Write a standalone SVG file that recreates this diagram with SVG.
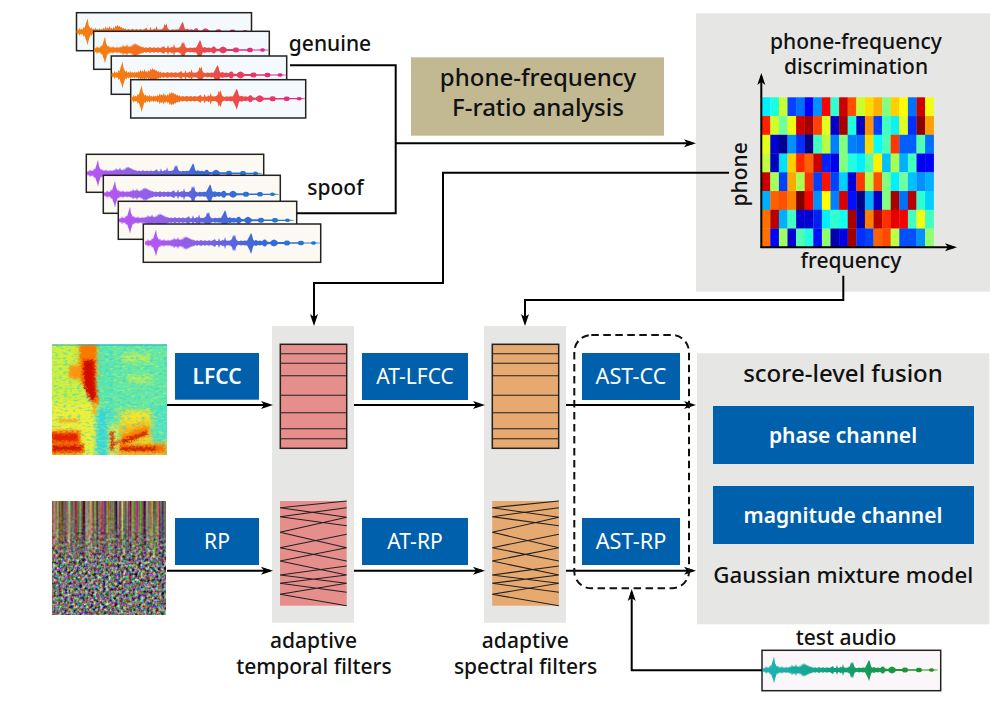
<svg xmlns="http://www.w3.org/2000/svg" width="1007" height="704" viewBox="0 0 1007 704">
<style>
text{font-family:"Noto Sans","Open Sans","Liberation Sans",sans-serif;fill:#111;text-anchor:middle;font-size:21px;font-weight:500}
.w{fill:#fff;font-weight:400}
.b{font-weight:600}
.xl{font-size:24px}
.blue{fill:#0060ab}
.band{fill:#e6e6e4}
.card{stroke:#222;stroke-width:1.5}
.g{fill:#f3f9fd}
.s{fill:#fbf9f2}
.t{fill:#fbf6f9}
.line{fill:none;stroke:#000;stroke-width:2}
.arr{marker-end:url(#ah)}
.fl{stroke:#222;stroke-width:1.1;fill:none}
#heat rect{width:8.8px;height:19px}
</style>
<defs>
<marker id="ah" markerUnits="userSpaceOnUse" markerWidth="14" markerHeight="10" refX="9" refY="5" orient="auto">
<path d="M0 1 L12 5 L0 9 L3 5z" fill="#000"/>
</marker>
<linearGradient id="gg"><stop offset="0" stop-color="#f6800e"/><stop offset=".45" stop-color="#f0602c"/><stop offset=".7" stop-color="#e8405a"/><stop offset="1" stop-color="#e6208c"/></linearGradient>
<linearGradient id="gs"><stop offset="0" stop-color="#bb55f6"/><stop offset=".35" stop-color="#7d62e2"/><stop offset=".65" stop-color="#3a68d8"/><stop offset="1" stop-color="#1e78d0"/></linearGradient>
<linearGradient id="gt"><stop offset="0" stop-color="#20b4b8"/><stop offset=".4" stop-color="#10a080"/><stop offset="1" stop-color="#209010"/></linearGradient>
<path id="wave" d="M0 18 1 16.5 2 17.5 3 15 4 17 5 16 6 17 7 14 8 15.5 9 12 10 9 11 5.5 12 12 13 14 14 16 15 14.5 16 17 17 15.5 18 17 19 15 20 17 21 16 22 17.2 23 15.5 24 17 25 16 26 16.8 27 15 28 16.5 29 13.5 30 16 31 14.5 32 16 33 13 34 16 35 15 36 16.5 37 14 38 16 39 12.5 40 14.5 41 12 42 14 43 13 44 15 45 14 46 16 47 15 48 16.5 49 15.5 50 17 52 16.2 54 17 56 16 58 17 60 16.3 62 17 64 16.2 66 17 68 16.2 70 15 71 17 73 17 74 14 75 17 77 16.5 78 15.5 79 16.8 80 13 81 16.5 83 16.8 85 16.5 87 15 88 11 89 13 90 10.5 91 15 92 16.5 94 17.2 96 16.5 98 17 100 16.5 102 16.8 104 13 105 11 106 9 107 11 108 15 109 16.8 111 16 113 17 115 16.5 117 17.2 119 15.5 121 15.8 122 17.5 125 18 127 16.3 129 15.5 131 16.3 133 18 139 18 140 16.8 142 16.5 144 16.8 145 18.3 153 18.3 154 17 156 16.8 158 17 159 18.4 166 18.4 167 17.5 169 17.3 170 17.6 171 18.5 175 18.7 175 19.3 171 19.5 170 20.4 169 20.7 167 20.5 166 19.6 159 19.6 158 21 156 21.2 154 21 153 19.7 145 19.7 144 21.2 142 21.5 140 21.2 139 20 133 20 131 21.7 129 22.5 127 21.7 125 20 122 20.5 121 22.2 119 22.5 117 20.8 115 21.5 113 21 111 22 109 21.2 108 23 107 27 106 30 105 27 104 25 102 21.2 100 21.5 98 21 96 21.5 94 20.8 92 21.5 91 23 90 27.5 89 25 88 27 87 23 85 21.5 83 21.2 81 21.5 80 25 79 21.2 78 22.5 77 21.5 75 21 74 24 73 21 71 21 70 23 68 21.8 66 21 64 21.8 62 21 60 21.7 58 21 56 22 54 21 52 21.8 50 21 49 22.5 48 21.5 47 23 46 22 45 24 44 23 43 25 42 24 41 26 40 23.5 39 25.5 38 22 37 24 36 21.5 35 23 34 22 33 25 32 22 31 23.5 30 22 29 24.5 28 21.5 27 23 26 21.2 25 22 24 21 23 22.5 22 20.8 21 22 20 21 19 23 18 21 17 22.5 16 21 15 23.5 14 22 13 25 12 28 11 32.5 10 28 9 26 8 22.5 7 24 6 21 5 22 4 21 3 23 2 20.5 1 21.5 0 20Z"/>
<g id="hl" class="fl"><rect x="0" y="0" width="66.4" height="104" stroke-width="1.5"/><path d="M0 9.4H66.4M0 19H66.4M0 31.4H66.4M0 51H66.4M0 68.4H66.4M0 84.4H66.4M0 94.4H66.4"/></g>
<path id="xl" class="fl" d="M0 6.7L66.7 0M0 6.7L66.7 16.3M0 15.7L66.7 6.7M0 15.7L66.7 24.7M0 31.3L66.7 16.3M0 31.3L66.7 46.7M0 46.7L66.7 33.3M0 46.7L66.7 60M0 60L66.7 46.7M0 60L66.7 74M0 74L66.7 65M0 74L66.7 82.3M0 82.3L66.7 74M0 82.3L66.7 91.3M0 93.3L66.7 82.3M0 93.3L66.7 104.7"/>
<filter id="soft" x="-5%" y="-20%" width="110%" height="140%"><feGaussianBlur stdDeviation=".3"/></filter>
<filter id="spb" filterUnits="userSpaceOnUse" x="20" y="310" width="180" height="180" color-interpolation-filters="sRGB">
<feGaussianBlur in="SourceGraphic" stdDeviation="2.8" result="b"/>
<feTurbulence type="fractalNoise" baseFrequency=".3 .45" numOctaves="2" seed="4" result="n"/>
<feDisplacementMap in="b" in2="n" scale="7" xChannelSelector="R" yChannelSelector="G"/>
</filter>
<filter id="spd" filterUnits="userSpaceOnUse" x="20" y="310" width="180" height="180" color-interpolation-filters="sRGB">
<feGaussianBlur in="SourceGraphic" stdDeviation="1.2" result="b"/>
<feTurbulence type="fractalNoise" baseFrequency=".35 .5" numOctaves="2" seed="9" result="n"/>
<feDisplacementMap in="b" in2="n" scale="5" xChannelSelector="R" yChannelSelector="G"/>
</filter>
<filter id="ny" filterUnits="userSpaceOnUse" x="52" y="344" width="115" height="111" color-interpolation-filters="sRGB">
<feTurbulence type="fractalNoise" baseFrequency=".22 .5" numOctaves="2" seed="21"/>
<feColorMatrix values="0 0 0 0 .97  0 0 0 0 .93  0 0 0 0 .2  4 0 0 0 -2.1"/>
</filter>
<filter id="nc" filterUnits="userSpaceOnUse" x="52" y="344" width="115" height="111" color-interpolation-filters="sRGB">
<feTurbulence type="fractalNoise" baseFrequency=".22 .5" numOctaves="2" seed="33"/>
<feColorMatrix values="0 0 0 0 .15  0 0 0 0 .8  0 0 0 0 .92  4 0 0 0 -2"/>
</filter>
<filter id="rpn" filterUnits="userSpaceOnUse" x="52" y="501" width="114" height="114" color-interpolation-filters="sRGB">
<feTurbulence type="fractalNoise" baseFrequency=".34" numOctaves="2" seed="7"/>
<feColorMatrix values="1.5 .5 0 0 -.55  0 1.5 .5 0 -.55  .5 0 1.5 0 -.55  0 0 0 0 1"/>
</filter>
<filter id="rps" filterUnits="userSpaceOnUse" x="52" y="501" width="114" height="114" color-interpolation-filters="sRGB">
<feTurbulence type="fractalNoise" baseFrequency=".28 .004" numOctaves="2" seed="11"/>
<feColorMatrix values="1.6 .5 0 0 -.55  .3 1.6 0 0 -.55  .2 0 1.2 0 -.38  0 0 0 0 1"/>
</filter>
<linearGradient id="rpf" x1="0" y1="0" x2="0" y2="1"><stop offset="0" stop-color="#fff"/><stop offset=".22" stop-color="#bbb"/><stop offset=".55" stop-color="#000"/></linearGradient>
<mask id="rpm" maskUnits="userSpaceOnUse" x="52" y="501" width="114" height="114"><rect x="52" y="501" width="114" height="114" fill="url(#rpf)"/></mask>
<clipPath id="lc"><rect x="52" y="344.3" width="115" height="110.7"/></clipPath>
</defs>

<g id="panel-top"><rect class="band" x="696" y="13.3" width="294" height="278.4"/></g>
<g id="panel-fusion"><rect class="band" x="697" y="353.3" width="292.3" height="271"/></g>
<g id="band-temporal"><rect class="band" x="272" y="326" width="82" height="296.7"/></g>
<g id="band-spectral"><rect class="band" x="484" y="326" width="82" height="296.7"/></g>

<g id="genuine-cards">
<rect class="card g" x="76.5" y="12.7" width="175" height="38"/><use href="#wave" x="76.5" y="12.7" fill="url(#gg)" filter="url(#soft)"/>
<rect class="card g" x="93.7" y="31.3" width="175.6" height="38"/><use href="#wave" x="94" y="31" fill="url(#gg)" filter="url(#soft)"/>
<rect class="card g" x="111.3" y="56" width="175.4" height="38.3"/><use href="#wave" x="111.5" y="56" fill="url(#gg)" filter="url(#soft)"/>
<rect class="card g" x="130.7" y="79.7" width="175" height="38.3"/><use href="#wave" x="130.7" y="79.7" fill="url(#gg)" filter="url(#soft)"/>
</g>
<g id="spoof-cards">
<rect class="card s" x="86.3" y="154.3" width="177.4" height="38"/><use href="#wave" x="87" y="154.3" fill="url(#gs)" filter="url(#soft)"/>
<rect class="card s" x="103.3" y="175.3" width="177" height="38"/><use href="#wave" x="104" y="175.3" fill="url(#gs)" filter="url(#soft)"/>
<rect class="card s" x="118.3" y="201.3" width="178.4" height="38"/><use href="#wave" x="119" y="201.3" fill="url(#gs)" filter="url(#soft)"/>
<rect class="card s" x="143.3" y="224" width="177.4" height="38.3"/><use href="#wave" x="145" y="224" fill="url(#gs)" filter="url(#soft)"/>
</g>
<g id="label-genuine"><text x="330" y="51">genuine</text></g>
<g id="label-spoof"><text x="335.5" y="195">spoof</text></g>

<g id="f-ratio"><rect x="411" y="57.3" width="253" height="78.4" fill="#c2b993"/>
<text class="xl" x="538" y="85.7">phone-frequency</text>
<text class="xl" x="538" y="115.7">F-ratio analysis</text></g>

<g id="heat-title"><text x="856" y="48.5">phone-frequency</text><text x="856" y="74">discrimination</text></g>
<g id="heat" transform="translate(761.7 97.3)">
<g><rect x="0" fill="#00f0ff"/><rect x="8.6" fill="#1affe0"/><rect x="17.2" fill="#c8ff30"/><rect x="25.8" fill="#0a40ff"/><rect x="34.4" fill="#0070ff"/><rect x="43" fill="#0000ff"/><rect x="51.6" fill="#0090ff"/><rect x="60.2" fill="#ff0000"/><rect x="68.8" fill="#30ffd0"/><rect x="77.4" fill="#cc0000"/><rect x="86" fill="#ff5000"/><rect x="94.6" fill="#c8ff30"/><rect x="103.2" fill="#ffdc00"/><rect x="111.8" fill="#ffb000"/><rect x="120.4" fill="#80ff80"/><rect x="129" fill="#ffd000"/><rect x="137.6" fill="#ffff00"/><rect x="146.2" fill="#0070ff"/><rect x="154.8" fill="#cc0000"/><rect x="163.4" fill="#f0ff10"/></g>
<g transform="translate(0 18.75)"><rect x="0" fill="#ff2000"/><rect x="8.6" fill="#d0ff28"/><rect x="17.2" fill="#70ffa0"/><rect x="25.8" fill="#f0ff10"/><rect x="34.4" fill="#cc0000"/><rect x="43" fill="#a00000"/><rect x="51.6" fill="#ff4000"/><rect x="60.2" fill="#e0ff20"/><rect x="68.8" fill="#0000c8"/><rect x="77.4" fill="#a80000"/><rect x="86" fill="#20ffe0"/><rect x="94.6" fill="#0000c0"/><rect x="103.2" fill="#ff9000"/><rect x="111.8" fill="#0040ff"/><rect x="120.4" fill="#40ffc0"/><rect x="129" fill="#10f0f0"/><rect x="137.6" fill="#e0ff20"/><rect x="146.2" fill="#0030ff"/><rect x="154.8" fill="#8b0000"/><rect x="163.4" fill="#ffa000"/></g>
<g transform="translate(0 37.5)"><rect x="0" fill="#e4ff18"/><rect x="8.6" fill="#0000d0"/><rect x="17.2" fill="#000090"/><rect x="25.8" fill="#0090ff"/><rect x="34.4" fill="#0030ff"/><rect x="43" fill="#000088"/><rect x="51.6" fill="#40ffc0"/><rect x="60.2" fill="#b8ff40"/><rect x="68.8" fill="#0080ff"/><rect x="77.4" fill="#80ff80"/><rect x="86" fill="#0080ff"/><rect x="94.6" fill="#0070ff"/><rect x="103.2" fill="#ffd800"/><rect x="111.8" fill="#00ffff"/><rect x="120.4" fill="#50ffb0"/><rect x="129" fill="#ff3800"/><rect x="137.6" fill="#0060ff"/><rect x="146.2" fill="#0060ff"/><rect x="154.8" fill="#50ffb0"/><rect x="163.4" fill="#0070ff"/></g>
<g transform="translate(0 56.25)"><rect x="0" fill="#c0ff40"/><rect x="8.6" fill="#0000c0"/><rect x="17.2" fill="#00e0ff"/><rect x="25.8" fill="#ffd000"/><rect x="34.4" fill="#ff2800"/><rect x="43" fill="#ff6000"/><rect x="51.6" fill="#c80000"/><rect x="60.2" fill="#0020ff"/><rect x="68.8" fill="#0000f0"/><rect x="77.4" fill="#80ff80"/><rect x="86" fill="#20ffe0"/><rect x="94.6" fill="#00f0ff"/><rect x="103.2" fill="#50ffb0"/><rect x="111.8" fill="#fff000"/><rect x="120.4" fill="#00c0ff"/><rect x="129" fill="#a8ff50"/><rect x="137.6" fill="#00b0ff"/><rect x="146.2" fill="#40ffc0"/><rect x="154.8" fill="#0000f0"/><rect x="163.4" fill="#0000ff"/></g>
<g transform="translate(0 75)"><rect x="0" fill="#c80000"/><rect x="8.6" fill="#a8ff58"/><rect x="17.2" fill="#0040ff"/><rect x="25.8" fill="#ffa800"/><rect x="34.4" fill="#a8ff50"/><rect x="43" fill="#ff3000"/><rect x="51.6" fill="#0040ff"/><rect x="60.2" fill="#ff1000"/><rect x="68.8" fill="#0040ff"/><rect x="77.4" fill="#00d0ff"/><rect x="86" fill="#0000d8"/><rect x="94.6" fill="#ff3800"/><rect x="103.2" fill="#b0ff48"/><rect x="111.8" fill="#ff5000"/><rect x="120.4" fill="#80ff80"/><rect x="129" fill="#00f0ff"/><rect x="137.6" fill="#70ffa0"/><rect x="146.2" fill="#00c0ff"/><rect x="154.8" fill="#0090ff"/><rect x="163.4" fill="#00b0ff"/></g>
<g transform="translate(0 93.75)"><rect x="0" fill="#00b0ff"/><rect x="8.6" fill="#ff6000"/><rect x="17.2" fill="#ff5000"/><rect x="25.8" fill="#ff8000"/><rect x="34.4" fill="#800000"/><rect x="43" fill="#ff0000"/><rect x="51.6" fill="#0090ff"/><rect x="60.2" fill="#ffff00"/><rect x="68.8" fill="#0080ff"/><rect x="77.4" fill="#d80000"/><rect x="86" fill="#0010ff"/><rect x="94.6" fill="#000088"/><rect x="103.2" fill="#00b0ff"/><rect x="111.8" fill="#0000c8"/><rect x="120.4" fill="#80ff80"/><rect x="129" fill="#a80000"/><rect x="137.6" fill="#0070ff"/><rect x="146.2" fill="#b80000"/><rect x="154.8" fill="#30ffd0"/><rect x="163.4" fill="#00d0ff"/></g>
<g transform="translate(0 112.5)"><rect x="0" fill="#ff7000"/><rect x="8.6" fill="#b80000"/><rect x="17.2" fill="#00b0ff"/><rect x="25.8" fill="#40ffc0"/><rect x="34.4" fill="#0000d0"/><rect x="43" fill="#0000d0"/><rect x="51.6" fill="#0020f0"/><rect x="60.2" fill="#00f0ff"/><rect x="68.8" fill="#30ffd0"/><rect x="77.4" fill="#10ffee"/><rect x="86" fill="#a80000"/><rect x="94.6" fill="#0000b0"/><rect x="103.2" fill="#ff8000"/><rect x="111.8" fill="#b80000"/><rect x="120.4" fill="#ff3000"/><rect x="129" fill="#e80000"/><rect x="137.6" fill="#f80000"/><rect x="146.2" fill="#40ffc0"/><rect x="154.8" fill="#f0ff10"/><rect x="163.4" fill="#40ffc0"/></g>
<g transform="translate(0 131.25)"><rect x="0" fill="#ff7000"/><rect x="8.6" fill="#0000ff"/><rect x="17.2" fill="#a0ff60"/><rect x="25.8" fill="#0000d0"/><rect x="34.4" fill="#50ffb0"/><rect x="43" fill="#20ffe0"/><rect x="51.6" fill="#0010ff"/><rect x="60.2" fill="#90ff70"/><rect x="68.8" fill="#0000b0"/><rect x="77.4" fill="#0000e0"/><rect x="86" fill="#a00000"/><rect x="94.6" fill="#0030ff"/><rect x="103.2" fill="#0040ff"/><rect x="111.8" fill="#ff6000"/><rect x="120.4" fill="#ff4800"/><rect x="129" fill="#c0ff40"/><rect x="137.6" fill="#0050ff"/><rect x="146.2" fill="#0050ff"/><rect x="154.8" fill="#0090ff"/><rect x="163.4" fill="#90ff70"/></g>
</g>
<g id="axes"><path class="line arr" d="M761.3 248V76"/><path class="line arr" d="M760.5 247.3H954"/></g>
<g id="label-phone"><text transform="translate(747 174.3) rotate(-90)">phone</text></g>
<g id="label-frequency"><text x="851" y="268">frequency</text></g>

<g id="lfcc-image" clip-path="url(#lc)">
<rect x="52" y="344" width="115" height="111" fill="#5ee4b0"/>
<g filter="url(#spb)">
<rect x="30" y="325" width="62" height="85" fill="#ccf040"/>
<rect x="30" y="403" width="72" height="70" fill="#eef038"/>
<rect x="96" y="340" width="12" height="64" fill="#58e8b0"/>
<rect x="112" y="330" width="70" height="78" fill="#62e8a8"/>
<rect x="122" y="354" width="30" height="8" fill="#b8f060"/>
<rect x="128" y="376" width="24" height="6" fill="#c8f050"/>
<rect x="96" y="408" width="12" height="60" fill="#30d8e0"/>
<rect x="120" y="410" width="32" height="60" fill="#f6e428"/>
<rect x="108" y="424" width="10" height="40" fill="#d8f050"/>
<rect x="152" y="405" width="30" height="40" fill="#50e4c0"/>
<rect x="79" y="330" width="18" height="50" fill="#ff9800"/>
<rect x="70" y="366" width="11" height="12" fill="#ff9c10"/>
<rect x="40" y="431" width="40" height="26" fill="#ff9810"/>
<rect x="120" y="424" width="30" height="16" fill="#ffb010" transform="rotate(-12 135 433)"/>
<rect x="118" y="443" width="50" height="14" fill="#ffa810"/>
</g>
<rect x="52" y="344" width="115" height="111" filter="url(#ny)" opacity=".5"/>
<rect x="52" y="344" width="115" height="111" filter="url(#nc)" opacity=".5"/>
<g filter="url(#spd)">
<path d="M80 345H96V378L99 404H93L81 382Z" fill="#f87800"/>
<path d="M83 360H94L96 398 91 402 84 386Z" fill="#d00c00"/>
<rect x="93" y="404" width="3" height="10" fill="#ffa010"/>
<rect x="70" y="366" width="10" height="12" fill="#ff9410"/>
<rect x="52" y="431" width="28" height="14" fill="#f86a00"/>
<rect x="52" y="434" width="26" height="7" fill="#e02400"/>
<rect x="52" y="444" width="32" height="9" fill="#f06000"/>
<rect x="52" y="446" width="30" height="4.5" fill="#c81400"/>
<rect x="58" y="419" width="20" height="3" fill="#f8a020"/>
<path d="M122 436L148 426 148 434 122 446Z" fill="#f88000"/>
<path d="M122 440L148 431 148 434 122 444Z" fill="#c81800"/>
<rect x="110.5" y="431" width="3" height="20" fill="#d81400"/>
<path d="M113 444L122 439 122 441 113 446Z" fill="#e02800"/>
<rect x="120" y="445" width="44" height="7" fill="#f87000"/>
<rect x="120" y="447.5" width="36" height="2.5" fill="#b80c00"/>
</g>
<rect x="52" y="344.3" width="115" height="1.5" fill="#20a8e0" opacity=".6"/>
</g>

<g id="rp-image">
<rect x="52" y="501.3" width="114" height="113.7" filter="url(#rpn)"/>
<rect x="52" y="501.3" width="114" height="113.7" filter="url(#rps)" mask="url(#rpm)"/>
</g>

<g id="box-lfcc"><rect class="blue" x="175" y="353" width="84" height="46.7"/><text class="w b" x="217" y="384.3">LFCC</text></g>
<g id="box-rp"><rect class="blue" x="175" y="518" width="84" height="47"/><text class="w" x="217" y="549.3">RP</text></g>
<g id="box-at-lfcc"><rect class="blue" x="362" y="353" width="106" height="47"/><text class="w" x="415" y="384.3">AT-LFCC</text></g>
<g id="box-at-rp"><rect class="blue" x="362" y="518" width="106" height="47"/><text class="w" x="415" y="549.3">AT-RP</text></g>
<g id="box-ast-cc"><rect class="blue" x="582" y="353" width="98" height="47"/><text class="w" x="631" y="384.3" style="font-size:21.7px">AST-CC</text></g>
<g id="box-ast-rp"><rect class="blue" x="582" y="518" width="98" height="47"/><text class="w" x="631" y="549.3" style="font-size:21.7px">AST-RP</text></g>

<g id="filter-temporal-1" transform="translate(280.3 344.3)"><rect width="66.4" height="104" fill="#e58e8c"/><use href="#hl"/></g>
<g id="filter-temporal-2" transform="translate(280 501)"><rect width="66.7" height="104.7" fill="#e58e8c"/><use href="#xl"/></g>
<g id="filter-spectral-1" transform="translate(492.3 344.3)"><rect width="66.4" height="104" fill="#e6a970"/><use href="#hl"/></g>
<g id="filter-spectral-2" transform="translate(492.2 501)"><rect width="66.7" height="104.7" fill="#e6a970"/><use href="#xl"/></g>

<g id="label-temporal"><text x="313.5" y="648.3">adaptive</text><text x="314" y="674">temporal filters</text></g>
<g id="label-spectral"><text x="525.3" y="648.3">adaptive</text><text x="525.5" y="674">spectral filters</text></g>

<g id="fusion"><text class="xl" x="843" y="382">score-level fusion</text>
<rect class="blue" x="713" y="406" width="261" height="58"/><text class="w b" x="843" y="443.3">phase channel</text>
<rect class="blue" x="713" y="486" width="261" height="58"/><text class="w b" x="843" y="523.3">magnitude channel</text>
<text x="843.3" y="582.7" style="font-size:22.3px">Gaussian mixture model</text></g>

<g id="test-audio"><text x="846" y="645">test audio</text>
<rect class="card t" x="762" y="650.3" width="178.7" height="40.4"/><use href="#wave" x="763" y="651" fill="url(#gt)" filter="url(#soft)"/></g>

<g id="connectors">
<path class="line" d="M290 65.3H395.7V213.3H297"/>
<path class="line arr" d="M395.7 143.3H693"/>
<path class="line arr" d="M729 172.7H443V283H314V323"/>
<path class="line arr" d="M843.3 275.7V300H525V323"/>
<path class="line arr" d="M167 405H270"/>
<path class="line arr" d="M354 405H482"/>
<path class="line arr" d="M566 405H693"/>
<path class="line arr" d="M167 570.7H270"/>
<path class="line arr" d="M354 570.7H482"/>
<path class="line arr" d="M566 570.7H693"/>
<path class="line arr" d="M762 670.3H631.7V592"/>
<rect x="574.3" y="335" width="114.7" height="253.3" rx="17" fill="none" stroke="#111" stroke-width="2" stroke-dasharray="7.5 4.5"/>
</g>
</svg>
